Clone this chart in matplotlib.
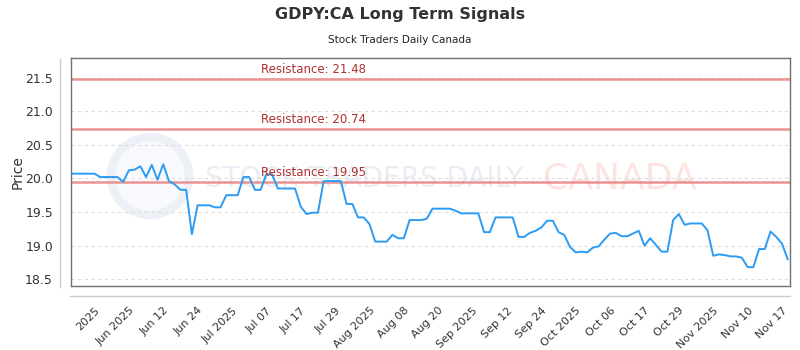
import matplotlib
matplotlib.use("Agg")
import matplotlib.pyplot as plt
from matplotlib.lines import Line2D
from matplotlib.patches import Circle

# price series (one value per trading session)
prices = (
    [20.07] * 5 + [20.02] * 4
    + [19.95, 20.12, 20.13, 20.18, 20.02, 20.20, 19.98, 20.21, 19.96, 19.91, 19.83, 19.83, 19.17]
    + [19.60] * 3 + [19.57] * 2 + [19.75] * 3 + [20.02] * 2 + [19.83] * 2 + [20.06] * 2
    + [19.85] * 4 + [19.58, 19.47] + [19.49] * 2 + [19.96] * 4 + [19.62] * 2 + [19.42] * 2
    + [19.32] + [19.06] * 3 + [19.16] + [19.11] * 2 + [19.38] * 3 + [19.40] + [19.55] * 4
    + [19.52] + [19.48] * 4 + [19.20] * 2 + [19.42] * 4 + [19.13] * 2
    + [19.19, 19.22, 19.27] + [19.37] * 2
    + [19.20, 19.16, 18.98, 18.90, 18.91, 18.90, 18.97, 18.99, 19.09, 19.18, 19.19]
    + [19.14] * 2 + [19.18, 19.22, 19.00, 19.11, 19.01] + [18.91] * 2
    + [19.38, 19.47, 19.31] + [19.33] * 3 + [19.23, 18.85, 18.87, 18.86] + [18.84] * 2
    + [18.82] + [18.68] * 2 + [18.95] * 2 + [19.21, 19.13, 19.03, 18.80]
)

resistance = [21.48, 20.74, 19.95]

tick_idx = list(range(4, 125, 6))
tick_labels = ["2025", "Jun 2025", "Jun 12", "Jun 24", "Jul 2025", "Jul 07", "Jul 17",
               "Jul 29", "Aug 2025", "Aug 08", "Aug 20", "Sep 2025", "Sep 12", "Sep 24",
               "Oct 2025", "Oct 06", "Oct 17", "Oct 29", "Nov 2025", "Nov 10", "Nov 17"]

y_ticks = [18.5, 19.0, 19.5, 20.0, 20.5, 21.0, 21.5]

fig = plt.figure(figsize=(8, 3.5), dpi=100)
ax = fig.add_axes([71 / 800, 1 - 286 / 350, 719 / 800, 228 / 350])

# watermark
ax.add_patch(Circle((1.50, 1.74), 0.39, transform=fig.dpi_scale_trans, fc="#f8f9fc",
                    ec="#eef0f7", lw=6, zorder=0, clip_on=False))
ax.text(0.186, 0.47, "STOCK TRADERS DAILY", transform=ax.transAxes, fontsize=20,
        color="#eaedf4", va="center", ha="left", zorder=0.5)
ax.text(0.656, 0.47, "CANADA", transform=ax.transAxes, fontsize=26,
        color="#fde4e1", va="center", ha="left", zorder=0.5)

x = range(len(prices))
ax.plot(x, prices, color="#2b9bf4", lw=1.4, zorder=3)

for r in resistance:
    ax.axhline(r, color="#e87a7a", lw=1.8, alpha=0.8, zorder=2)
    ax.text(0.264, r + 0.04, f"Resistance: {r:.2f}", transform=ax.get_yaxis_transform(),
            color="#b03030", fontsize=8.5, va="bottom", ha="left", zorder=4)

ax.set_xlim(-0.1, len(prices) - 0.6)
ax.set_ylim(18.40, 21.79)
ax.set_yticks(y_ticks)
ax.set_yticklabels([f"{v:.1f}" for v in y_ticks])
ax.set_xticks(tick_idx)
ax.set_xticklabels(tick_labels, rotation=45, ha="right", rotation_mode="anchor")
ax.tick_params(axis="x", length=0, pad=14, labelsize=8, labelcolor="#333333")
ax.tick_params(axis="y", length=0, pad=13, labelsize=9, labelcolor="#333333")
ax.grid(axis="y", color="#dddddd", ls=(0, (3, 3)), lw=0.8)
for s in ax.spines.values():
    s.set_color("#707070")
    s.set_linewidth(1)

fig.text(18 / 800, 1 - 172 / 350, "Price", rotation=90, ha="center", va="center",
         fontsize=10, color="#333333")

# outer axis lines
fig.add_artist(Line2D([60 / 800, 60 / 800], [1 - 59 / 350, 1 - 287 / 350], color="#cccccc", lw=1))
fig.add_artist(Line2D([70 / 800, 790 / 800], [1 - 296 / 350, 1 - 296 / 350], color="#cccccc", lw=1))

fig.text(0.5, 1 - 15 / 350, "GDPY:CA Long Term Signals", ha="center", va="center",
         fontsize=11.5, fontweight="bold", color="#333333")
fig.text(0.5, 1 - 40 / 350, "Stock Traders Daily Canada", ha="center", va="center",
         fontsize=7.5, color="#222222")

fig.savefig("out.png", dpi=100)
